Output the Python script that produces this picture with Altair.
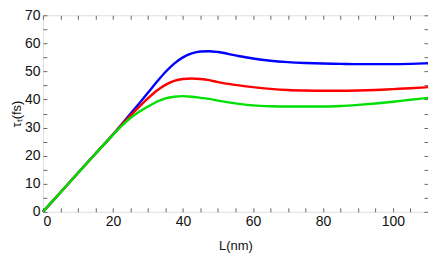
import altair as alt
import pandas as pd

L = [0, 5, 10, 15, 20, 22.5, 25, 27.5, 30, 32.5, 35, 37.5, 40, 42.5, 45, 47.5,
     50, 55, 60, 65, 70, 75, 80, 85, 90, 95, 100, 105, 110]
blue = [0, 6.9, 13.8, 20.7, 27.5, 31.2, 34.9, 38.6, 42.4, 46.2, 49.8, 52.8, 55.0,
        56.4, 57.1, 57.2, 56.9, 55.7, 54.6, 53.8, 53.3, 53.0, 52.8, 52.7, 52.6,
        52.6, 52.6, 52.7, 52.9]
red = [0, 6.9, 13.8, 20.7, 27.5, 31.0, 34.3, 37.4, 40.4, 43.1, 45.2, 46.6, 47.3,
       47.5, 47.3, 46.9, 46.2, 45.2, 44.4, 43.8, 43.4, 43.2, 43.1, 43.1, 43.2,
       43.4, 43.7, 44.0, 44.4]
green = [0, 6.9, 13.8, 20.7, 27.4, 30.6, 33.4, 35.6, 37.5, 39.2, 40.4, 41.0, 41.2,
         41.0, 40.6, 40.2, 39.6, 38.6, 37.9, 37.6, 37.5, 37.5, 37.5, 37.7, 38.1,
         38.6, 39.2, 39.9, 40.6]
series_names = ["blue", "red", "green"]
series_colors = ["#0000FF", "#FF0000", "#00E000"]
x_labels = [0, 20, 40, 60, 80, 100]
y_labels = [0, 10, 20, 30, 40, 50, 60, 70]
x_minor = list(range(0, 111, 5))
y_minor = list(range(0, 71, 5))

rows = []
for name, vals in zip(series_names, [blue, red, green]):
    for l, v in zip(L, vals):
        rows.append({"L": l, "tau": v, "series": name})
df = pd.DataFrame(rows)

W, H = 386, 197
FONT = "Liberation Sans"
xs = alt.Scale(domain=[0, 110], nice=False, zero=False)
ys = alt.Scale(domain=[0, 70], nice=False)

base = alt.Chart(df)

lines = base.mark_line(strokeWidth=2.4, interpolate="monotone").encode(
    x=alt.X("L:Q", scale=xs, axis=alt.Axis(
        values=x_labels, ticks=False, domain=False, grid=False, labelPadding=3,
        labelFontSize=14, labelFont=FONT, labelColor="#111",
        title="L(nm)", titleFont=FONT, titleFontSize=13, titleFontWeight="normal",
        titleColor="#111", titlePadding=11)),
    y=alt.Y("tau:Q", scale=ys, axis=alt.Axis(
        values=y_labels, ticks=False, domain=False, grid=False, labelPadding=3,
        labelFontSize=14, labelFont=FONT, labelColor="#111",
        title="τₜ(fs)", titleFont=FONT, titleFontSize=13, titleFontWeight="normal",
        titleColor="#111", titlePadding=1)),
    color=alt.Color("series:N", scale=alt.Scale(domain=series_names, range=series_colors),
                    legend=None),
)

ticks_in1 = base.mark_line(opacity=0).encode(
    x=alt.X("L:Q", scale=xs, axis=alt.Axis(
        orient="top", offset=-H, values=x_minor, labels=False, title=None,
        domain=False, grid=False, tickSize=4, tickColor="#666", tickWidth=1)),
    y=alt.Y("tau:Q", scale=ys, axis=alt.Axis(
        orient="right", offset=-W, values=y_minor, labels=False, title=None,
        domain=False, grid=False, tickSize=4, tickColor="#666", tickWidth=1)),
    detail="series:N",
)

ticks_in2 = base.mark_line(opacity=0).encode(
    x=alt.X("L:Q", scale=xs, axis=alt.Axis(
        orient="bottom", offset=-H, values=x_minor, labels=False, title=None,
        domain=False, grid=False, tickSize=4, tickColor="#666", tickWidth=1)),
    y=alt.Y("tau:Q", scale=ys, axis=alt.Axis(
        orient="left", offset=-W, values=y_minor, labels=False, title=None,
        domain=False, grid=False, tickSize=4, tickColor="#666", tickWidth=1)),
    detail="series:N",
)

chart = alt.layer(ticks_in1, ticks_in2, lines).resolve_axis(
    x="independent", y="independent"
).properties(
    width=W, height=H,
    autosize="none",
    padding={"left": 35, "top": 7, "right": 0, "bottom": 42},
).configure_view(
    stroke="#222", strokeWidth=1.6
).configure(background="white")

chart.save("out.html", embed_options={"renderer": "svg", "actions": False})
